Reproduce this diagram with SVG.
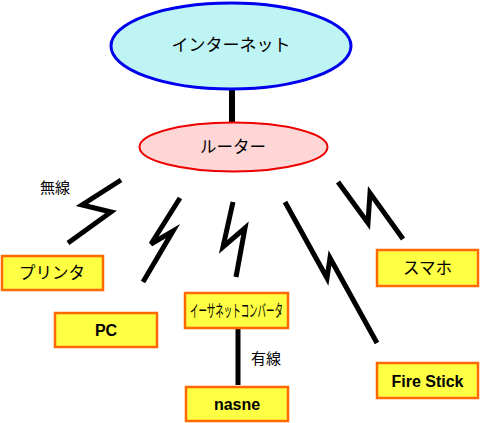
<svg xmlns="http://www.w3.org/2000/svg" width="480" height="423" viewBox="0 0 480 423">
<style>
text{font-family:"Liberation Sans","Noto Sans CJK JP",sans-serif;fill:#000;text-anchor:middle;dominant-baseline:central}
.box{fill:#ffff44;stroke:#ff6a00;stroke-width:2.5}
.bolt{fill:none;stroke:#000;stroke-width:5;stroke-linejoin:miter;stroke-linecap:butt}
.b{font-weight:bold;font-size:16px}
.j{font-size:16.5px}
</style>
<rect width="480" height="423" fill="#fff"/>
<g id="connectors">
<line x1="232" y1="90" x2="232" y2="122" stroke="#000" stroke-width="6"/>
<line x1="238" y1="329" x2="238" y2="385" stroke="#000" stroke-width="5"/>
<polyline class="bolt" points="121,180 82,205 111,212 68,243"/>
<polyline class="bolt" points="180,198 151,244 173,231 143,282"/>
<polyline class="bolt" points="233,202 223,247 245,228 236,277"/>
<polyline class="bolt" points="285,202 327,278 330,258 377,343"/>
<polyline class="bolt" points="338,182 368,223 370,193 403,239"/>
<text x="55" y="187" style="font-size:15px">無線</text>
<text x="266" y="358" style="font-size:15px">有線</text>
</g>
<g id="internet">
<ellipse cx="231" cy="46" rx="120" ry="43" fill="#bff4f4" stroke="#0000ee" stroke-width="3"/>
<text x="231" y="45" style="font-size:17px">インターネット</text>
</g>
<g id="router">
<ellipse cx="233.5" cy="147" rx="94" ry="24.5" fill="#ffd6d6" stroke="#ee0000" stroke-width="2"/>
<text x="233" y="147" class="j">ルーター</text>
</g>
<g id="printer">
<rect class="box" x="2" y="256" width="101" height="34"/>
<text x="52" y="273" class="j">プリンタ</text>
</g>
<g id="pc">
<rect class="box" x="55" y="313" width="102" height="34"/>
<text x="106" y="330" class="b">PC</text>
</g>
<g id="converter">
<rect class="box" x="185" y="293" width="103" height="35"/>
<text x="236.5" y="311" style="font-size:17px" textLength="93" lengthAdjust="spacingAndGlyphs">イーサネットコンバータ</text>
</g>
<g id="nasne">
<rect class="box" x="186" y="387" width="102" height="34"/>
<text x="237" y="404" class="b">nasne</text>
</g>
<g id="firestick">
<rect class="box" x="377" y="363" width="101" height="35"/>
<text x="427.5" y="381" class="b">Fire Stick</text>
</g>
<g id="smartphone">
<rect class="box" x="377" y="250" width="101" height="36"/>
<text x="427.5" y="268" class="j">スマホ</text>
</g>
</svg>
